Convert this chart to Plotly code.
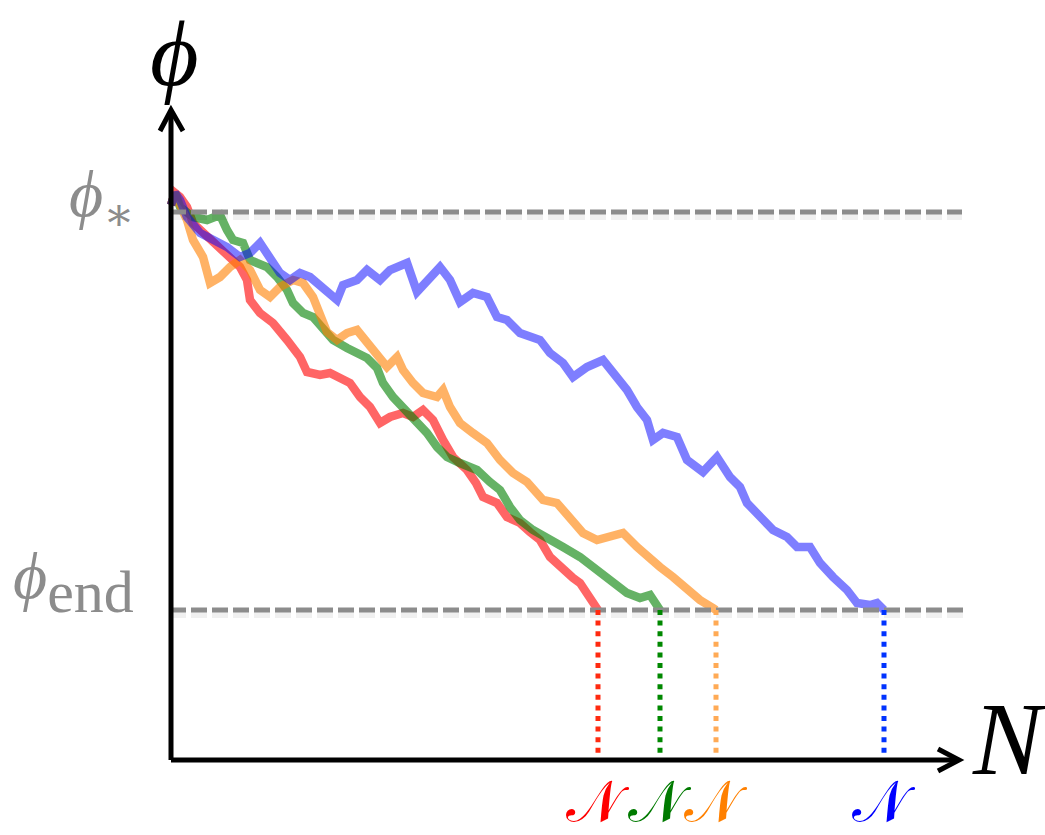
import plotly.graph_objects as go

# Stochastic inflaton trajectories: field value phi against e-folds N
phi_star = 5.48
phi_end = 1.50

red_N = [0.00, 0.04, 0.09, 0.16, 0.22, 0.32, 0.41, 0.49, 0.56, 0.69, 0.76, 0.79, 0.89, 1.02, 1.16,
         1.29, 1.36, 1.49, 1.59, 1.69, 1.79, 1.89, 1.99, 2.09, 2.19, 2.32, 2.42, 2.52, 2.62, 2.72,
         2.82, 2.96, 3.05, 3.12, 3.26, 3.36, 3.49, 3.59, 3.69, 3.79, 3.92, 4.02, 4.09, 4.19, 4.27]
red_phi = [5.55, 5.67, 5.63, 5.53, 5.37, 5.27, 5.18, 5.10, 5.03, 4.93, 4.80, 4.60, 4.47, 4.37, 4.20,
           4.03, 3.88, 3.85, 3.87, 3.83, 3.77, 3.63, 3.53, 3.37, 3.43, 3.47, 3.43, 3.50, 3.40, 3.20,
           3.03, 2.90, 2.77, 2.63, 2.57, 2.43, 2.37, 2.28, 2.20, 2.03, 1.90, 1.82, 1.77, 1.63, 1.50]

green_N = [0.00, 0.04, 0.09, 0.22, 0.36, 0.49, 0.56, 0.62, 0.72, 0.79, 0.86, 0.96, 1.06, 1.16, 1.22,
           1.32, 1.42, 1.52, 1.62, 1.76, 1.86, 1.96, 2.06, 2.12, 2.22, 2.32, 2.49, 2.56, 2.66, 2.76,
           2.89, 3.06, 3.19, 3.29, 3.39, 3.49, 3.62, 3.76, 3.92, 4.09, 4.26, 4.42, 4.56, 4.69, 4.79, 4.89]
green_phi = [5.55, 5.67, 5.53, 5.43, 5.40, 5.45, 5.30, 5.20, 5.17, 5.00, 4.97, 4.93, 4.83, 4.70, 4.57,
             4.47, 4.43, 4.30, 4.20, 4.12, 4.07, 4.02, 3.92, 3.77, 3.63, 3.53, 3.37, 3.27, 3.13, 3.03,
             2.97, 2.90, 2.78, 2.70, 2.53, 2.40, 2.30, 2.23, 2.13, 2.03, 1.90, 1.80, 1.67, 1.62, 1.65, 1.50]

orange_N = [0.00, 0.04, 0.09, 0.16, 0.22, 0.32, 0.39, 0.49, 0.59, 0.69, 0.79, 0.89, 0.99, 1.09, 1.22,
            1.32, 1.42, 1.49, 1.56, 1.66, 1.76, 1.86, 1.96, 2.06, 2.16, 2.26, 2.32, 2.42, 2.52, 2.66,
            2.72, 2.79, 2.89, 3.02, 3.16, 3.29, 3.42, 3.56, 3.72, 3.86, 3.99, 4.12, 4.26, 4.39, 4.52,
            4.66, 4.76, 4.89, 5.02, 5.16, 5.29, 5.42, 5.45]
orange_phi = [5.55, 5.67, 5.55, 5.40, 5.20, 5.03, 4.77, 4.83, 4.93, 5.00, 4.90, 4.70, 4.63, 4.73, 4.80,
              4.77, 4.63, 4.45, 4.28, 4.20, 4.27, 4.30, 4.17, 4.07, 3.93, 4.03, 3.90, 3.77, 3.67, 3.63,
              3.70, 3.53, 3.37, 3.27, 3.17, 3.00, 2.87, 2.78, 2.60, 2.57, 2.43, 2.27, 2.20, 2.23, 2.27,
              2.13, 2.03, 1.93, 1.83, 1.70, 1.60, 1.52, 1.50]

blue_N = [0.00, 0.04, 0.09, 0.16, 0.29, 0.42, 0.56, 0.69, 0.79, 0.89, 0.99, 1.09, 1.19, 1.29, 1.39,
          1.52, 1.66, 1.72, 1.86, 1.96, 2.09, 2.19, 2.36, 2.46, 2.56, 2.69, 2.79, 2.89, 3.02, 3.16,
          3.26, 3.36, 3.49, 3.62, 3.69, 3.79, 3.92, 4.02, 4.16, 4.32, 4.42, 4.56, 4.66, 4.76, 4.82,
          4.92, 5.06, 5.16, 5.32, 5.46, 5.59, 5.69, 5.76, 5.89, 6.02, 6.16, 6.26, 6.39, 6.49, 6.62,
          6.76, 6.86, 6.99, 7.06, 7.13]
blue_phi = [5.55, 5.67, 5.60, 5.43, 5.27, 5.20, 5.13, 5.03, 5.07, 5.17, 5.03, 4.87, 4.80, 4.87, 4.83,
            4.73, 4.60, 4.75, 4.80, 4.90, 4.80, 4.90, 4.97, 4.68, 4.80, 4.93, 4.80, 4.58, 4.67, 4.63,
            4.43, 4.40, 4.27, 4.23, 4.20, 4.07, 3.97, 3.83, 3.93, 4.00, 3.87, 3.70, 3.53, 3.40, 3.20,
            3.27, 3.23, 3.00, 2.88, 3.03, 2.83, 2.73, 2.57, 2.43, 2.30, 2.23, 2.13, 2.13, 1.97, 1.83,
            1.70, 1.57, 1.55, 1.57, 1.50]

# end-of-inflation e-folds for each realisation
N_end = [4.27, 4.89, 5.45, 7.13]
path_colors = ["rgb(255,0,0)", "rgb(0,128,0)", "rgb(255,128,0)", "rgb(0,0,255)"]
path_opacity = [0.6, 0.6, 0.6, 0.5]
drop_colors = ["#ff2a10", "#008800", "#ffaa55", "#0033ff"]
label_colors = ["#ff0000", "#007a00", "#ff8000", "#0000ff"]

GRAY = "#8c8c8c"
fig = go.Figure()

paths = [(red_N, red_phi), (green_N, green_phi), (orange_N, orange_phi), (blue_N, blue_phi)]
for (xs, ys), c, op in zip(paths, path_colors, path_opacity):
    fig.add_trace(go.Scatter(x=xs, y=ys, mode="lines", opacity=op,
                             line=dict(color=c, width=8.5), hoverinfo="skip", showlegend=False))

# reference levels phi_* and phi_end with a soft shadow
for level, x_stop in [(phi_star, 7.91), (phi_end, 7.97)]:
    fig.add_trace(go.Scatter(x=[-0.01, x_stop], y=[level - 0.035, level - 0.035], mode="lines",
                             line=dict(color="rgba(0,0,0,0.06)", width=9, dash="16px,5px"),
                             hoverinfo="skip", showlegend=False))
    fig.add_trace(go.Scatter(x=[-0.01, x_stop], y=[level, level], mode="lines",
                             line=dict(color=GRAY, width=5, dash="16px,5px"),
                             hoverinfo="skip", showlegend=False))

# dotted drops from phi_end down to the N axis
for n, c in zip(N_end, drop_colors):
    fig.add_trace(go.Scatter(x=[n, n], y=[phi_end, 0.05], mode="lines",
                             line=dict(color=c, width=5, dash="5px,5.6px"),
                             hoverinfo="skip", showlegend=False))

# axes with open arrow heads
axis_line = dict(color="black", width=5)
fig.add_shape(type="line", x0=0, y0=0, x1=0, y1=6.48, line=axis_line)
fig.add_shape(type="line", x0=0, y0=0, x1=7.86, y1=0, line=axis_line)
fig.add_shape(type="path", path="M -0.11,6.29 L 0,6.50 L 0.12,6.29", line=axis_line)
fig.add_shape(type="path", path="M 7.67,0.11 L 7.88,0 L 7.67,-0.11", line=axis_line)

serif = "Liberation Serif, DejaVu Serif, serif"
fig.add_annotation(x=0.03, y=7.07, text="<i>ϕ</i>", showarrow=False,
                   font=dict(family=serif, size=94, color="black"), xanchor="center", yanchor="middle")
fig.add_annotation(x=7.99, y=0.22, text="<i>N</i>", showarrow=False,
                   font=dict(family=serif, size=104, color="black"), xanchor="left", yanchor="middle")
fig.add_annotation(x=-0.34, y=5.62, text="<i>ϕ</i><sub>∗</sub>", showarrow=False,
                   font=dict(family=serif, size=66, color=GRAY), xanchor="right", yanchor="middle")
fig.add_annotation(x=-0.35, y=1.78,
                   text="<i>ϕ</i><sub><span style='font-size:60px'>end</span></sub>", showarrow=False,
                   font=dict(family=serif, size=66, color=GRAY), xanchor="right", yanchor="middle")
for n, c in zip(N_end, label_colors):
    fig.add_annotation(x=n, y=-0.41, text="𝒩", showarrow=False,
                       font=dict(family="DejaVu Sans, Noto Sans, serif", size=58, color=c),
                       xanchor="center", yanchor="middle")

fig.update_layout(
    width=1045, height=835, margin=dict(l=0, r=0, t=0, b=0),
    paper_bgcolor="white", plot_bgcolor="white",
    xaxis=dict(range=[-1.71, 8.74], visible=False, fixedrange=True),
    yaxis=dict(range=[-0.75, 7.60], visible=False, fixedrange=True),
    showlegend=False,
)

fig.write_html("out.html")
